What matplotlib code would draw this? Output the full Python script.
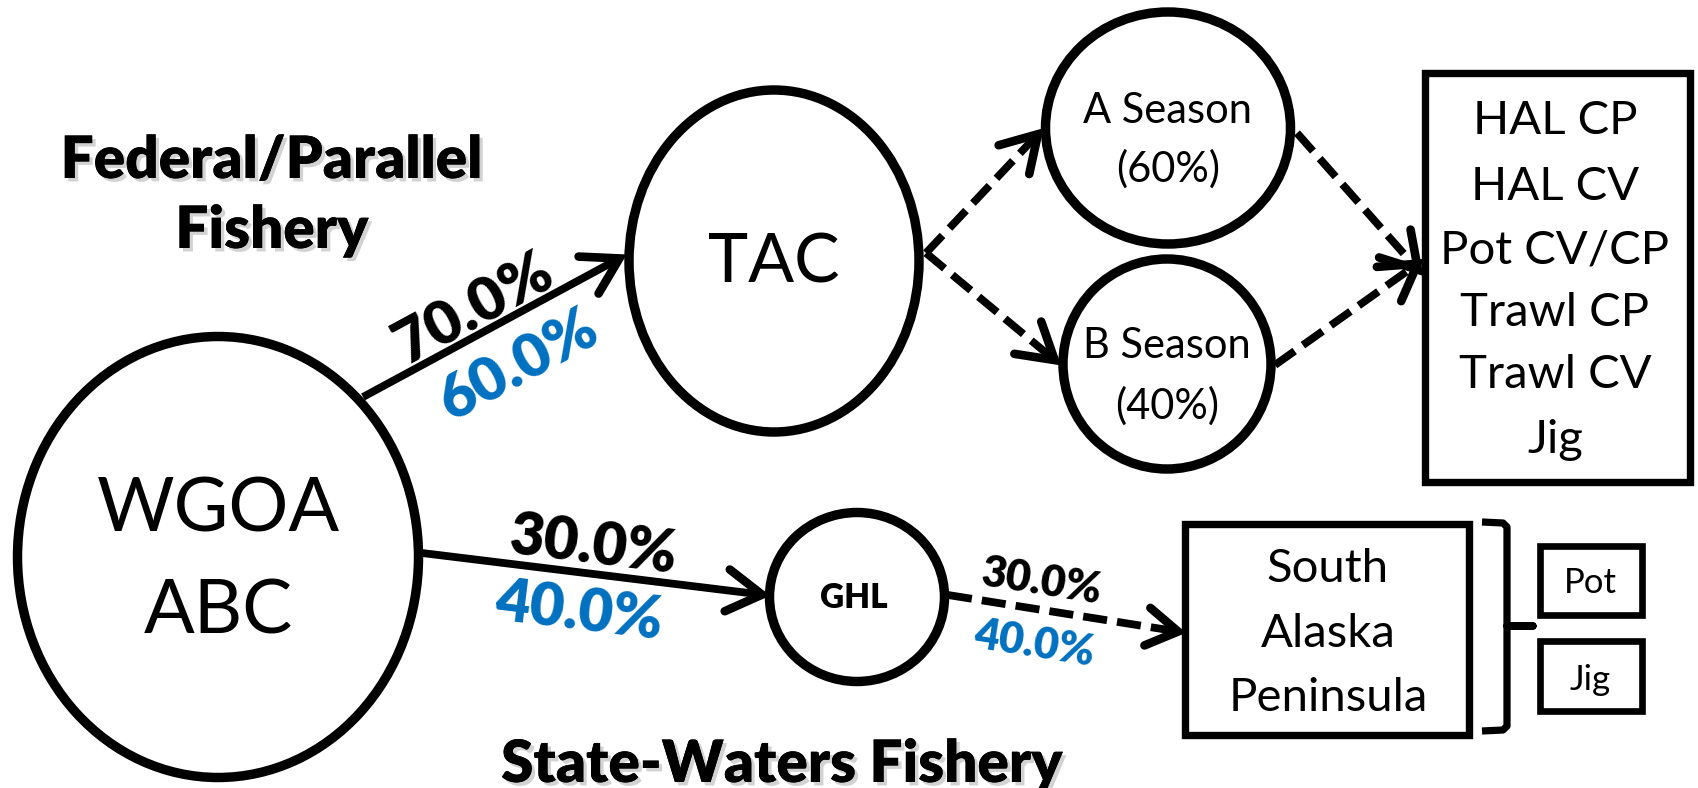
import numpy as np
import matplotlib
matplotlib.use("Agg")
import matplotlib.pyplot as plt
from matplotlib.patches import Ellipse, Rectangle
import matplotlib.patheffects as pe

plt.rcParams['font.family'] = ['Lato', 'DejaVu Sans']

# chart content
source = ["WGOA", "ABC"]
federal_pct = [70.0, 60.0]     # black, blue
state_pct = [30.0, 40.0]
ghl_pct = [30.0, 40.0]
season_names = ["A Season", "B Season"]
season_pct = [60, 40]
sectors = ["HAL CP", "HAL CV", "Pot CV/CP", "Trawl CP", "Trawl CV", "Jig"]
state_area = ["South", "Alaska", "Peninsula"]
state_gear = ["Pot", "Jig"]
BLUE = "#0070C0"

fig = plt.figure(figsize=(16.98, 7.88), dpi=100)
ax = fig.add_axes([0, 0, 1, 1])
ax.set_xlim(0, 1698)
ax.set_ylim(788, 0)
ax.axis('off')

LW = 6.8
shadow = [pe.withSimplePatchShadow(offset=(2.5, -2.5), shadow_rgbFace='0.5', alpha=0.35), pe.Normal()]


def ellipse(cx, cy, w, h):
    ax.add_patch(Ellipse((cx, cy), w, h, fc='white', ec='black', lw=LW, zorder=3))


def box(x0, y0, x1, y1, lw=5.3):
    ax.add_patch(Rectangle((x0, y0), x1 - x0, y1 - y0, fc='white', ec='black', lw=lw, zorder=3))


def arrow(p0, p1, dashed=False, hl=38, hw=21, lw=5.6):
    p0 = np.array(p0, float)
    p1 = np.array(p1, float)
    d = (p1 - p0) / np.hypot(*(p1 - p0))
    n = np.array([-d[1], d[0]])
    ls = (0, (3.1, 1.3)) if dashed else '-'
    ax.plot([p0[0], p1[0] - d[0] * 4], [p0[1], p1[1] - d[1] * 4], color='black', lw=lw,
            ls=ls, solid_capstyle='butt', dash_capstyle='butt', zorder=2)
    a = p1 - d * hl + n * hw
    b = p1 - d * hl - n * hw
    ax.plot([a[0], p1[0] - d[0] * 3, b[0]], [a[1], p1[1] - d[1] * 3, b[1]], color='black', lw=lw + 0.6,
            solid_capstyle='round', solid_joinstyle='miter', zorder=4)


def angle(p0, p1):
    return -np.degrees(np.arctan2(p1[1] - p0[1], p1[0] - p0[0]))


def pct_label(x, y, val, rot, size, color='black'):
    ax.text(x, y, f"{val:.1f}%", fontsize=size, fontweight='heavy', color=color, rotation=rot,
            ha='center', va='center', rotation_mode='anchor', zorder=5)


# titles
ax.text(272, 178, "Federal/Parallel", fontsize=42, fontweight='heavy', ha='center', va='baseline',
        path_effects=shadow)
ax.text(272, 248, "Fishery", fontsize=42, fontweight='heavy', ha='center', va='baseline',
        path_effects=shadow)
ax.text(782, 782, "State-Waters Fishery", fontsize=42, fontweight='heavy', ha='center', va='baseline',
        path_effects=shadow)

# nodes
ellipse(218, 557, 401, 441)
for y, s in zip([532, 634], source):
    ax.text(218, y, s, fontsize=54, ha='center', va='baseline', zorder=5)

ellipse(774, 261, 290, 342)
ax.text(774, 282, "TAC", fontsize=49, ha='center', va='baseline', zorder=5)

season_xy = [(1168, 128, 245, 232), (1167, 364, 208, 210)]
season_base = [(123, 182), (358, 419)]
for (cx, cy, w, h), name, pct, (b1, b2) in zip(season_xy, season_names, season_pct, season_base):
    ellipse(cx, cy, w, h)
    ax.text(cx, b1, name, fontsize=30, ha='center', va='baseline', zorder=5)
    ax.text(cx, b2, f"({pct}%)", fontsize=30, ha='center', va='baseline', zorder=5)

box(1425, 73, 1690, 482)
sector_base = [134, 200, 264, 326, 388, 453]
for y, s in zip(sector_base, sectors):
    ax.text(1555, y, s, fontsize=34, ha='center', va='baseline', zorder=5)

ellipse(857, 597, 175, 169)
ax.text(854, 608, "GHL", fontsize=24, fontweight='heavy', ha='center', va='baseline', zorder=5)

box(1185, 524, 1469, 735)
area_base = [582, 647, 711]
for y, s in zip(area_base, state_area):
    ax.text(1328, y, s, fontsize=34, ha='center', va='baseline', zorder=5)

# bracket
ax.plot([1482, 1503, 1507, 1507, 1533, 1507, 1507, 1503, 1482],
        [522, 523, 527, 626, 626, 626, 726, 730, 731],
        color='black', lw=5.2, solid_joinstyle='round', solid_capstyle='butt', zorder=3)

gear_boxes = [(546, 615), (641, 711)]
gear_base = [593, 690]
for (y0, y1), yb, g in zip(gear_boxes, gear_base, state_gear):
    box(1540, y0, 1642, y1, lw=4.8)
    ax.text(1590, yb, g, fontsize=25, ha='center', va='baseline', zorder=5)

# arrows
fed = ((363, 397), (622, 257))
st = ((422, 553), (765, 595))
gh = ((948, 595), (1181, 632))
arrow(*fed)
arrow(*st)
arrow((926, 253), (1040, 132), dashed=True)
arrow((926, 253), (1057, 362), dashed=True)
arrow((1297, 133), (1420, 272), dashed=True)
arrow((1275, 365), (1420, 262), dashed=True)
arrow(*gh, dashed=True, hl=34, hw=19)

# percentages
pct_label(474, 308, federal_pct[0], angle(*fed), 44)
pct_label(518, 365, federal_pct[1], angle(*fed), 44, BLUE)
pct_label(593, 546, state_pct[0], angle(*st), 43)
pct_label(579, 612, state_pct[1], angle(*st), 43, BLUE)
pct_label(1042, 582, ghl_pct[0], angle(*gh), 31)
pct_label(1034, 644, ghl_pct[1], angle(*gh), 31, BLUE)

fig.savefig("out.png", dpi=100)
